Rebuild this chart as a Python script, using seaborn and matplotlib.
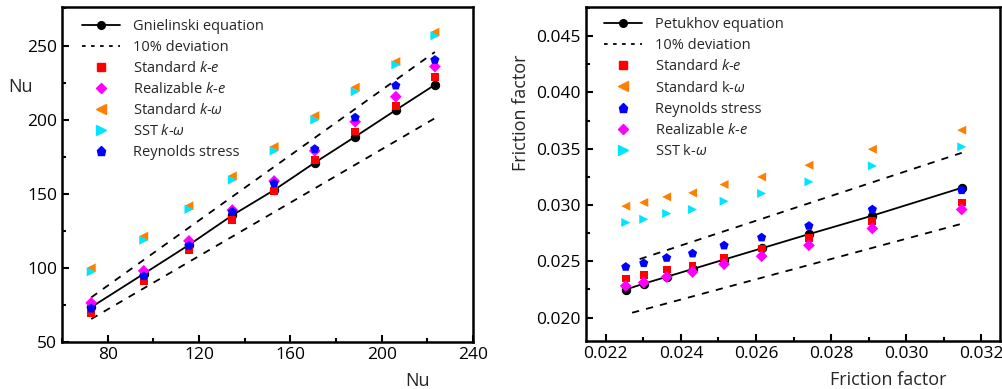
import numpy as np
import matplotlib
matplotlib.use("Agg")
import matplotlib.pyplot as plt
import seaborn as sns
from matplotlib.ticker import MultipleLocator
from matplotlib.lines import Line2D

sns.set_theme(style="ticks")
plt.rcParams['font.family'] = ['Open Sans', 'DejaVu Sans']
plt.rcParams['mathtext.fontset'] = 'custom'
plt.rcParams['mathtext.it'] = 'Open Sans:italic'
plt.rcParams['mathtext.rm'] = 'Open Sans'

# ---- left panel: Nusselt number ----
nu_x = [72.8, 95.8, 115.6, 134.6, 152.9, 170.7, 188.4, 206.2, 223.3]
nu_gnielinski = [73.5, 96.0, 115.5, 135.5, 152.5, 171.0, 188.5, 206.5, 223.5]
nu_std_ke = [69.5, 91.0, 112.0, 132.4, 152.0, 172.8, 192.0, 209.5, 228.8]
nu_real_ke = [76.4, 98.0, 118.2, 139.0, 158.6, 179.0, 198.6, 215.5, 235.8]
nu_std_kw = [100.0, 121.4, 141.9, 162.0, 181.8, 202.7, 221.9, 239.2, 259.0]
nu_sst_kw = [97.3, 118.7, 139.5, 159.3, 178.9, 199.8, 218.9, 237.0, 256.6]
nu_rsm = [72.6, 94.4, 114.9, 137.8, 157.0, 180.2, 201.4, 223.0, 240.3]
nu_dev_x = [72.8, 223.3]

# ---- right panel: friction factor ----
f_x = [0.02253, 0.02301, 0.02362, 0.02431, 0.02515, 0.02615, 0.02741, 0.02910, 0.03148]
f_petukhov = [0.02249, 0.02301, 0.02362, 0.02431, 0.02515, 0.02615, 0.02741, 0.02905, 0.03152]
f_std_ke = [0.02347, 0.02376, 0.02427, 0.02459, 0.02533, 0.02613, 0.02707, 0.02858, 0.03022]
f_std_kw = [0.02989, 0.03022, 0.03072, 0.03107, 0.03182, 0.03249, 0.03353, 0.03495, 0.03664]
f_rsm = [0.02450, 0.02483, 0.02530, 0.02569, 0.02640, 0.02711, 0.02814, 0.02960, 0.03131]
f_real_ke = [0.02281, 0.02311, 0.02361, 0.02405, 0.02474, 0.02545, 0.02642, 0.02791, 0.02960]
f_sst_kw = [0.02844, 0.02873, 0.02924, 0.02960, 0.03033, 0.03102, 0.03205, 0.03347, 0.03516]
f_dev_hi_x = [0.02290, 0.03148]
f_dev_lo_x = [0.02270, 0.03148]

fig = plt.figure(figsize=(10.03, 3.89), dpi=100)
ax1 = fig.add_axes([0.0618, 0.1208, 0.4098, 0.8612])
ax2 = fig.add_axes([0.5842, 0.1234, 0.4128, 0.8586])

ms = 6
s_sq, s_dia, s_tri, s_pent = 32, 36, 42, 48


def style_axes(ax):
    for s in ax.spines.values():
        s.set_linewidth(1.8)
        s.set_color('black')
    ax.tick_params(which='both', direction='in', top=False, right=False,
                   labelsize=12.5, width=1.5, colors='black')
    ax.tick_params(which='major', length=5)
    ax.tick_params(which='minor', length=3)


# left
sns.lineplot(x=nu_x, y=nu_gnielinski, ax=ax1, color='black', lw=1.3,
             marker='o', markersize=ms, markeredgecolor='black', zorder=2)
dx = np.array(nu_dev_x)
sns.lineplot(x=dx, y=dx * 1.1, ax=ax1, color='black', lw=1.3, dashes=(4, 4), zorder=2)
sns.lineplot(x=dx, y=dx * 0.9, ax=ax1, color='black', lw=1.3, dashes=(4, 4), zorder=2)
sns.scatterplot(x=nu_x, y=nu_std_ke, ax=ax1, marker='s', color='red', s=s_sq, edgecolor='none', zorder=3)
sns.scatterplot(x=nu_x, y=nu_real_ke, ax=ax1, marker='D', color='#ff00ff', s=s_dia, edgecolor='none', zorder=3)
sns.scatterplot(x=nu_x, y=nu_std_kw, ax=ax1, marker='<', color='#ff8000', s=s_tri, edgecolor='none', zorder=3)
sns.scatterplot(x=nu_x, y=nu_sst_kw, ax=ax1, marker='>', color='#00e5ff', s=s_tri, edgecolor='none', zorder=3)
sns.scatterplot(x=nu_x, y=nu_rsm, ax=ax1, marker='p', color='#0000ff', s=s_pent, edgecolor='none', zorder=3)

ax1.set_xlim(60, 240)
ax1.set_ylim(50, 276)
ax1.set_xticks([80, 120, 160, 200, 240])
ax1.set_yticks([50, 100, 150, 200, 250])
ax1.xaxis.set_minor_locator(MultipleLocator(20))
ax1.yaxis.set_minor_locator(MultipleLocator(25))
style_axes(ax1)
ax1.set_xlabel('Nu', fontsize=13)
ax1.xaxis.set_label_coords(0.864, -0.09)
ax1.set_ylabel('Nu', fontsize=13, rotation=0)
ax1.yaxis.set_label_coords(-0.1, 0.735)

h1 = [
    Line2D([], [], color='black', lw=1.3, marker='o', markersize=5.5),
    Line2D([], [], color='black', lw=1.3, ls=(0, (2, 3))),
    Line2D([], [], ls='', marker='s', color='red', markersize=5.5),
    Line2D([], [], ls='', marker='D', color='#ff00ff', markersize=5.5),
    Line2D([], [], ls='', marker='<', color='#ff8000', markersize=6.5),
    Line2D([], [], ls='', marker='>', color='#00e5ff', markersize=6.5),
    Line2D([], [], ls='', marker='p', color='#0000ff', markersize=6.5),
]
l1 = ['Gnielinski equation', '10% deviation', 'Standard $k$-$e$', 'Realizable $k$-$e$',
      'Standard $k$-$\\omega$', 'SST $k$-$\\omega$', 'Reynolds stress']
ax1.legend(h1, l1, loc='upper left', frameon=False, fontsize=10.5,
           handlelength=2.6, handletextpad=0.9, labelspacing=0.42,
           borderaxespad=0.4, bbox_to_anchor=(0.02, 1.0))

# right
sns.lineplot(x=f_x, y=f_petukhov, ax=ax2, color='black', lw=1.3,
             marker='o', markersize=ms, markeredgecolor='black', zorder=2)
hx = np.array(f_dev_hi_x)
lx = np.array(f_dev_lo_x)
sns.lineplot(x=hx, y=hx * 1.1, ax=ax2, color='black', lw=1.3, dashes=(4, 4), zorder=2)
sns.lineplot(x=lx, y=lx * 0.9, ax=ax2, color='black', lw=1.3, dashes=(4, 4), zorder=2)
sns.scatterplot(x=f_x, y=f_std_ke, ax=ax2, marker='s', color='red', s=s_sq, edgecolor='none', zorder=3)
sns.scatterplot(x=f_x, y=f_std_kw, ax=ax2, marker='<', color='#ff8000', s=s_tri, edgecolor='none', zorder=3)
sns.scatterplot(x=f_x, y=f_rsm, ax=ax2, marker='p', color='#0000ff', s=s_pent, edgecolor='none', zorder=3)
sns.scatterplot(x=f_x, y=f_real_ke, ax=ax2, marker='D', color='#ff00ff', s=s_dia, edgecolor='none', zorder=3)
sns.scatterplot(x=f_x, y=f_sst_kw, ax=ax2, marker='>', color='#00e5ff', s=s_tri, edgecolor='none', zorder=3)

ax2.set_xlim(0.02147, 0.0325)
ax2.set_ylim(0.01792, 0.04758)
ax2.set_xticks([0.022, 0.024, 0.026, 0.028, 0.030, 0.032])
ax2.set_yticks([0.020, 0.025, 0.030, 0.035, 0.040, 0.045])
ax2.set_xticklabels(['0.022', '0.024', '0.026', '0.028', '0.030', '0.032'])
ax2.set_yticklabels(['0.020', '0.025', '0.030', '0.035', '0.040', '0.045'])
ax2.xaxis.set_minor_locator(MultipleLocator(0.001))
ax2.yaxis.set_minor_locator(MultipleLocator(0.0025))
style_axes(ax2)
ax2.set_xlabel('Friction factor', fontsize=13)
ax2.xaxis.set_label_coords(0.73, -0.09)
ax2.set_ylabel('Friction factor', fontsize=13)
ax2.yaxis.set_label_coords(-0.136, 0.683)

h2 = [
    Line2D([], [], color='black', lw=1.3, marker='o', markersize=5.5),
    Line2D([], [], color='black', lw=1.3, ls=(0, (2, 3))),
    Line2D([], [], ls='', marker='s', color='red', markersize=5.5),
    Line2D([], [], ls='', marker='<', color='#ff8000', markersize=6.5),
    Line2D([], [], ls='', marker='p', color='#0000ff', markersize=6.5),
    Line2D([], [], ls='', marker='D', color='#ff00ff', markersize=5.5),
    Line2D([], [], ls='', marker='>', color='#00e5ff', markersize=6.5),
]
l2 = ['Petukhov equation', '10% deviation', 'Standard $k$-$e$', 'Standard k-$\\omega$',
      'Reynolds stress', 'Realizable $k$-$e$', 'SST k-$\\omega$']
ax2.legend(h2, l2, loc='upper left', frameon=False, fontsize=10.5,
           handlelength=2.6, handletextpad=0.9, labelspacing=0.42,
           borderaxespad=0.3, bbox_to_anchor=(0.02, 1.0))

fig.savefig('out.png', dpi=100)
